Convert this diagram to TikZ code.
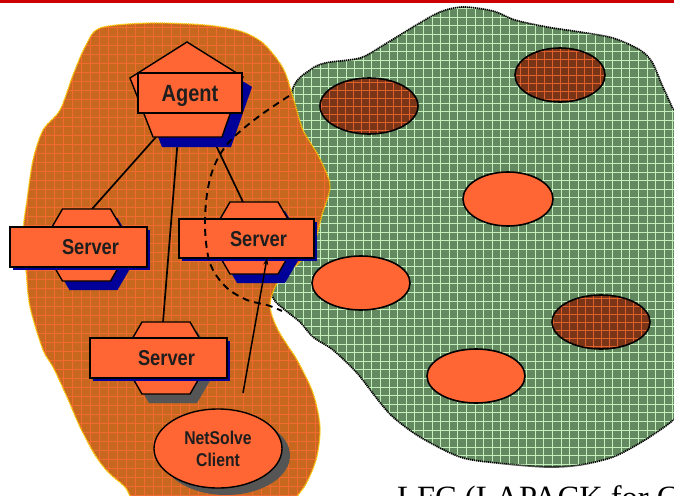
\documentclass[tikz,border=0pt]{standalone}
\usepackage{fontspec}
\setmainfont{Liberation Serif}
\newfontfamily\labelfont[FakeStretch=0.85]{Liberation Sans}
\usetikzlibrary{shapes.geometric,shadows,arrows.meta}

\definecolor{topred}{HTML}{CC0000}
\definecolor{fieldgreen}{HTML}{62895F}
\definecolor{fieldgrid}{HTML}{C4EEBC}
\definecolor{siteorange}{HTML}{C8681E}
\definecolor{sitegrid}{HTML}{F26A30}
\definecolor{siteedge}{HTML}{FFCC00}
\definecolor{shapefill}{HTML}{FF6633}
\definecolor{busybrown}{HTML}{7A3418}
\definecolor{busygrid}{HTML}{E2602C}
\definecolor{shadowblue}{HTML}{000099}
\definecolor{shadowgray}{HTML}{555555}
\definecolor{labelgray}{HTML}{1E1E1E}

\tikzset{
  shapeline/.style={draw=black, line width=1.4pt, fill=shapefill, line join=miter},
  labeltext/.style={font=\labelfont\bfseries\fontsize{#1}{22}\selectfont, text=labelgray},
  box/.style={shapeline, rectangle, inner sep=0pt, minimum height=40pt,
    minimum width=137pt, text depth=0pt, labeltext=21.5,
    drop shadow={shadow xshift=3pt, shadow yshift=-3pt, fill=shadowblue, opacity=1}},
  link/.style={draw=black, line width=1.7pt},
  reachline/.style={draw=black, line width=1.9pt, dash pattern=on 7pt off 5pt},
  greenedge/.style={draw=black, line width=1.7pt, dash pattern=on 1.2pt off 0.8pt},
  orangeedge/.style={draw=siteedge, line width=1.3pt, dash pattern=on 1.2pt off 0.8pt},
  siteellipse/.style={draw=black, line width=1.6pt},
}

% outlines of the two regions
\def\greenblob{plot[smooth cycle, tension=0.5] coordinates {
  (293,88) (310,70) (325,63) (360,58) (382,46) (413,27) (440,12) (463,7)
  (493,11) (515,20) (547,27) (580,32) (613,38) (640,50) (652,62) (662,85)
  (672,107) (690,150) (690,400) (673,420) (660,430) (640,443) (613,457)
  (580,465) (547,467) (497,463) (460,457) (420,437) (393,417) (378,400)
  (357,373) (333,350) (313,337) (300,322) (285,310) (272,295) (268,250)
  (278,150)}}
\def\orangeblob{plot[smooth cycle, tension=0.5] coordinates {
  (100,28) (150,23) (205,25) (240,31) (263,43) (283,68) (293,97) (303,130)
  (318,155) (330,185) (322,215) (315,240) (300,262) (279,280) (270,305)
  (278,330) (297,360) (313,393) (320,427) (316,460) (302,490) (280,505)
  (200,510) (140,505) (125,487) (108,472) (95,455) (80,427) (67,397)
  (53,367) (43,350) (30,307) (26,270) (23,233) (27,200) (33,160) (43,130)
  (60,110) (73,75) (85,47)}}

% server hexagon with its offset shadow: centre x, top y, shadow colour
\newcommand\serverhex[3]{%
  \begin{scope}[shift={(#1,#2)}]
    \fill[#3] (-17,9) -- (31,9) -- (52,45) -- (31,81) -- (-17,81) -- (-38,45) -- cycle;
    \draw[shapeline] (-24,0) -- (24,0) -- (45,36) -- (24,72) -- (-24,72) -- (-45,36) -- cycle;
  \end{scope}}

% site ellipse inside the green field: centre, radii, hatched or plain
\newcommand\busysite[4]{%
  \begin{scope}
    \clip (#1,#2) ellipse [x radius=#3pt, y radius=#4pt];
    \fill[busybrown] (#1-60,#2-40) rectangle (#1+60,#2+40);
    \foreach \g in {-56,-48,...,56} \draw[busygrid, line width=0.9pt] (#1+\g,#2-40) -- (#1+\g,#2+40);
    \foreach \g in {-40,-32,...,40} \draw[busygrid, line width=0.9pt] (#1-60,#2+\g) -- (#1+60,#2+\g);
  \end{scope}
  \draw[siteellipse] (#1,#2) ellipse [x radius=#3pt, y radius=#4pt];}
\newcommand\freesite[4]{%
  \draw[siteellipse, fill=shapefill] (#1,#2) ellipse [x radius=#3pt, y radius=#4pt];}

\begin{document}
\begin{tikzpicture}[x=1pt, y=-1pt]
\useasboundingbox (0,0) rectangle (674,495);
\fill[white] (0,0) rectangle (674,495);
\fill[topred] (0,0) rectangle (674,3);

% green field with its grid
\begin{scope}
  \clip \greenblob;
  \fill[fieldgreen] (250,0) rectangle (700,500);
  \foreach \g in {260,268.6,...,690} \draw[fieldgrid, line width=0.75pt] (\g,0) -- (\g,500);
  \foreach \g in {0,8.6,...,500} \draw[fieldgrid, line width=0.75pt] (250,\g) -- (700,\g);
\end{scope}
\draw[greenedge] \greenblob;

\busysite{369}{106}{49}{28}
\busysite{560}{75}{45}{27}
\freesite{508}{199}{45}{27}
\freesite{361}{283}{49}{27}
\busysite{601}{322}{49}{27}
\freesite{476}{376}{49}{27}

% orange domain with its grid
\begin{scope}
  \clip \orangeblob;
  \fill[siteorange] (0,0) rectangle (340,500);
  \foreach \g in {0,9,...,340} \draw[sitegrid, line width=0.8pt] (\g,0) -- (\g,500);
  \foreach \g in {0,9,...,500} \draw[sitegrid, line width=0.8pt] (0,\g) -- (340,\g);
\end{scope}
\draw[orangeedge] \orangeblob;

% end points of the agent links
\coordinate (agentA) at (156,137);
\coordinate (agentC) at (178,137);
\coordinate (agentB) at (212,137);
\coordinate (hexA) at (92,209);
\coordinate (hexB) at (243,202);
\coordinate (hexC) at (163,322);
\draw[link] (agentA) -- (hexA);
\draw[link] (agentC) -- (hexC);
\draw[link] (agentB) -- (hexB);

% agent pentagon
\fill[shadowblue] (196,52) -- (252,87) -- (231,147) -- (162,147) -- (139,88) -- cycle;
\draw[shapeline] (187,42) -- (243,77) -- (222,137) -- (153,137) -- (130,78) -- cycle;
\node[shapeline, rectangle, inner sep=0pt, minimum width=104pt, minimum height=40pt,
      text depth=0pt, labeltext=23.5] (agent) at (190,93) {Agent};

% servers
\serverhex{86.5}{209}{shadowblue}
\node[box] (srvA) at (78.5,247) {\hspace*{24pt}Server};
\serverhex{254}{202}{shadowblue}
\node[box, minimum width=135pt, minimum height=39pt] (srvB) at (246.5,238.5) {\hspace*{24pt}Server};
\serverhex{166}{322}{shadowgray}
\node[box] (srvC) at (158.5,358) {\hspace*{16pt}Server};

% client
\node[ellipse, shapeline, minimum width=128pt, minimum height=79pt, inner sep=0pt,
      align=center, labeltext=18.5,
      drop shadow={shadow xshift=8pt, shadow yshift=-7pt, fill=shadowgray, opacity=1}]
      (client) at (218,448.5) {NetSolve\\Client};

% request from the client to a server
\coordinate (reqStart) at (243,393);
\coordinate (reqEnd) at (267,258);
\draw[link, line width=1.5pt, -{Stealth[length=7pt, width=5pt]}] (reqStart) -- (reqEnd);

% reach of the dashed boundary
\draw[reachline] plot[smooth, tension=0.6] coordinates {
  (289,96) (258,117) (231,140) (216,162) (208,188) (205,220) (207,250)
  (213,270) (227,288) (247,300) (267,305) (282,311)};

\node[anchor=base west, inner sep=0pt, font=\fontsize{32.5}{36}\selectfont] (lfc)
  at (397,508.5) {LFC (LAPACK for C};
\end{tikzpicture}
\end{document}
